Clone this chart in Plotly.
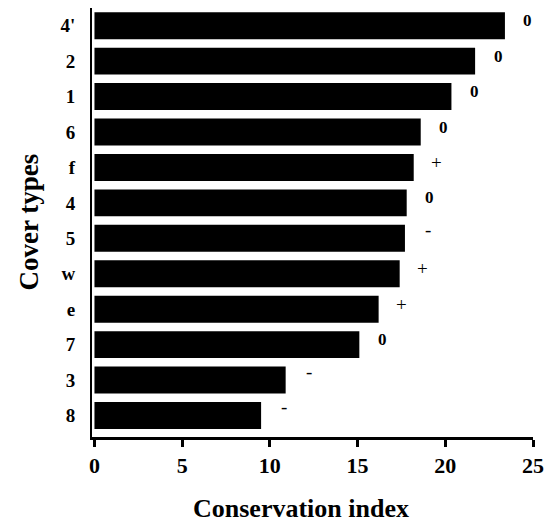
import plotly.graph_objects as go

# Data (top to bottom as displayed)
categories = ["4'", "2", "1", "6", "f", "4", "5", "w", "e", "7", "3", "8"]
conservation_index = [23.4, 21.7, 20.35, 18.6, 18.2, 17.8, 17.7, 17.4, 16.2, 15.1, 10.9, 9.5]
signs = ["0", "0", "0", "0", "+", "0", "-", "+", "+", "0", "-", "-"]
x_ticks = [0, 5, 10, 15, 20, 25]

FONT = "Liberation Serif"

fig = go.Figure()
fig.add_trace(go.Bar(
    x=conservation_index,
    y=categories,
    orientation="h",
    marker=dict(color="black", line=dict(width=0)),
    width=0.76,
    showlegend=False,
    hoverinfo="skip",
))

for i, (val, s) in enumerate(zip(conservation_index, signs)):
    fig.add_annotation(
        x=val, y=i, xref="x", yref="y",
        text=s, showarrow=False,
        xanchor="center", yanchor="middle",
        xshift=23, yshift=(9 if s == "-" else 5),
        font=dict(family=FONT, size=(17 if s == "0" else 19), color="black",
                  weight=("bold" if s == "0" else "normal")),
    )

# Axis titles as annotations
fig.add_annotation(
    text="Conservation index", xref="paper", yref="paper",
    x=0.474, y=-0.166, xanchor="center", yanchor="middle",
    showarrow=False,
    font=dict(family=FONT, size=26, color="black", weight="bold"),
)
fig.add_annotation(
    text="Cover types", xref="paper", yref="paper",
    x=-0.145, y=0.5, xanchor="center", yanchor="middle",
    textangle=-90, showarrow=False,
    font=dict(family=FONT, size=27, color="black", weight="bold"),
)

fig.update_layout(
    width=545, height=524,
    margin=dict(l=92, r=12, t=8, b=87, autoexpand=False),
    paper_bgcolor="white", plot_bgcolor="white",
    font=dict(family=FONT, color="black"),
    xaxis=dict(
        range=[-0.14, 25], tickvals=x_ticks, automargin=False,
        showgrid=False, zeroline=False,
        showline=True, linecolor="black", linewidth=3,
        ticks="outside", ticklen=7, tickwidth=2.5, tickcolor="black",
        tickfont=dict(family=FONT, size=22, color="black", weight="bold"),
    ),
    yaxis=dict(
        autorange="reversed", automargin=False,
        showgrid=False, zeroline=False,
        showline=True, linecolor="black", linewidth=2,
        ticks="", ticklabelstandoff=11,
        tickfont=dict(family=FONT, size=19, color="black", weight="bold"),
    ),
)

fig.write_html(
    "out.html",
    config={"displayModeBar": False},
    post_script="document.body.style.margin='0';document.body.style.overflow='hidden';",
)
